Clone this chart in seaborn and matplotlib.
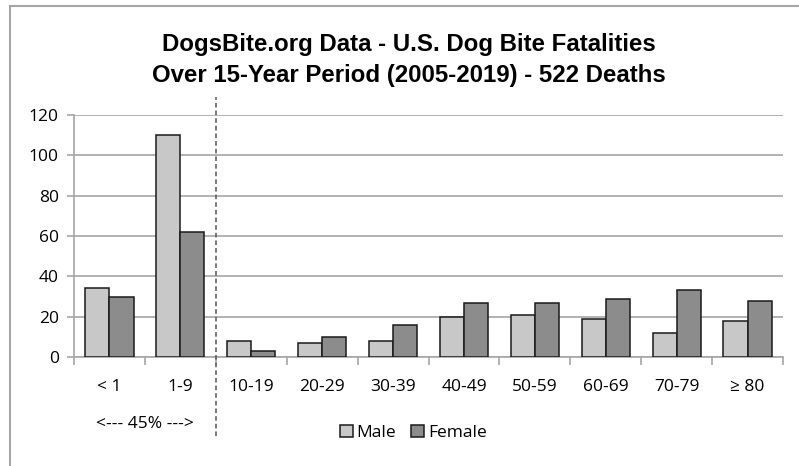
import pandas as pd
import seaborn as sns
import matplotlib.pyplot as plt
from matplotlib.patches import Rectangle

age_groups = ["< 1", "1-9", "10-19", "20-29", "30-39", "40-49", "50-59", "60-69", "70-79", "≥ 80"]
male = [34, 110, 8, 7, 8, 20, 21, 19, 12, 18]
female = [30, 62, 3, 10, 16, 27, 27, 29, 33, 28]
y_ticks = [0, 20, 40, 60, 80, 100, 120]

df = pd.DataFrame({
    "age": age_groups * 2,
    "deaths": male + female,
    "sex": ["Male"] * len(male) + ["Female"] * len(female),
})

sns.set_style("white")
plt.rcParams['font.family'] = ['Open Sans', 'DejaVu Sans']
plt.rcParams['text.color'] = 'black'
plt.rcParams['xtick.labelcolor'] = 'black'
plt.rcParams['ytick.labelcolor'] = 'black'

fig = plt.figure(figsize=(7.99, 4.66), dpi=100)
ax = fig.add_axes([0.0926, 0.2339, 0.8874, 0.5193])

sns.barplot(data=df, x="age", y="deaths", hue="sex", ax=ax,
            palette={"Male": "#c8c8c8", "Female": "#8c8c8c"},
            width=0.68, gap=0, edgecolor="#1a1a1a", linewidth=1.1, zorder=3)

ax.set_xlim(-0.5, len(age_groups) - 0.5)
ax.set_ylim(0, 120)
ax.set_yticks(y_ticks)
ax.grid(axis="y", color="#a6a6a6", linewidth=1.2, zorder=0)
ax.set_axisbelow(True)
ax.set_xlabel("")
ax.set_ylabel("")

for side in ["top", "right"]:
    ax.spines[side].set_visible(False)
for side in ["left", "bottom"]:
    ax.spines[side].set_color("#a6a6a6")
    ax.spines[side].set_linewidth(1.2)

ax.tick_params(axis="y", length=5, width=1.2, color="#a6a6a6", labelsize=12.5, pad=6, left=True)
ax.tick_params(axis="x", which="major", length=0, labelsize=12.5, pad=16)
ax.set_xticks([i - 0.5 for i in range(len(age_groups) + 1)], minor=True)
ax.tick_params(axis="x", which="minor", length=6, width=1.2, color="#a6a6a6", bottom=True)

# dashed separator between children and adults
ax.axvline(1.5, ymin=-0.326, ymax=1.074, color="#555555", linestyle=(0, (3, 2)),
           linewidth=1.1, clip_on=False, zorder=4)
ax.text(0.5, -0.275, "<--- 45% --->", transform=ax.get_xaxis_transform(),
        ha="center", va="center", fontsize=12.5)

ax.legend(loc="center", bbox_to_anchor=(0.517, 0.071), bbox_transform=fig.transFigure,
          ncol=2, frameon=False, fontsize=12.5, handlelength=0.75, handleheight=0.75,
          handletextpad=0.2, columnspacing=0.9, borderpad=0)

fig.text(0.512, 0.871, "DogsBite.org Data - U.S. Dog Bite Fatalities\nOver 15-Year Period (2005-2019) - 522 Deaths",
         ha="center", va="center", fontsize=17.3, fontweight="bold",
         family=["Liberation Sans", "DejaVu Sans"], linespacing=1.42)

fig.patches.append(Rectangle((0.0125, -0.1), 1.1, 1.087, transform=fig.transFigure,
                             fill=False, edgecolor="#a6a6a6", linewidth=1.5))

fig.savefig("out.png", dpi=100)
